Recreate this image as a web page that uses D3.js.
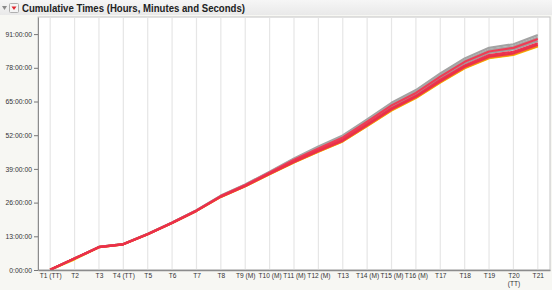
<!DOCTYPE html>
<html>
<head>
<meta charset="utf-8">
<script src="https://cdn.jsdelivr.net/npm/d3@7"></script>
<style>
  body { margin: 0; background: #f7f7f3; font-family: "Liberation Sans", Arial, sans-serif; }
  svg { display: block; }
</style>
</head>
<body>
<svg id="chart" width="552" height="290"></svg>
<script>
// stages
const stages = ["T1 (TT)", "T2", "T3", "T4 (TT)", "T5", "T6", "T7", "T8", "T9 (M)", "T10 (M)",
  "T11 (M)", "T12 (M)", "T13", "T14 (M)", "T15 (M)", "T16 (M)", "T17", "T18", "T19", "T20 (TT)", "T21"];

// cumulative hours per rider
const grayTop = [0.1, 4.5, 8.9, 10.0, 14.0, 18.3, 23.1, 28.7, 33.0, 37.9, 43.0, 47.6, 51.9, 58.1, 64.5, 69.4, 75.8, 81.6, 85.7, 87.1, 90.6];
const grayMid = [0.1, 4.4, 8.9, 10.0, 13.9, 18.3, 23.0, 28.6, 32.9, 37.7, 42.7, 47.2, 51.4, 57.6, 63.9, 68.8, 75.1, 80.8, 84.9, 86.3, 89.7];
const grayLow = [0.1, 4.4, 8.9, 10.0, 13.9, 18.2, 23.0, 28.5, 32.7, 37.4, 42.3, 46.6, 50.8, 56.8, 63.0, 67.9, 74.1, 79.7, 83.7, 85.1, 88.4];
const redA = [0.1, 4.4, 8.9, 10.0, 13.9, 18.2, 23.0, 28.5, 32.8, 37.6, 42.5, 46.9, 51.1, 57.2, 63.5, 68.3, 74.6, 80.3, 84.3, 85.7, 89.1];
const redB = [0.1, 4.4, 8.8, 9.9, 13.8, 18.2, 22.9, 28.4, 32.5, 37.2, 42.0, 46.2, 50.3, 56.3, 62.4, 67.2, 73.4, 78.9, 82.9, 84.2, 87.5];
const redC = [0.1, 4.4, 8.8, 9.9, 13.8, 18.1, 22.8, 28.3, 32.4, 37.1, 41.7, 45.9, 49.9, 55.9, 62.0, 66.8, 72.8, 78.4, 82.3, 83.6, 86.9];
const orangeLine = [0.1, 4.4, 8.8, 9.9, 13.8, 18.1, 22.8, 28.2, 32.3, 37.0, 41.6, 45.7, 49.7, 55.6, 61.7, 66.5, 72.5, 78.0, 81.9, 83.2, 86.4];
const leader = [0.1, 4.1, 8.8, 9.9, 13.8, 18.1, 22.8, 28.2, 32.3, 36.9, 41.5, 45.6, 49.6, 55.5, 61.5, 66.3, 72.3, 77.8, 81.7, 83.0, 86.2];

const yTicks = [0, 13, 26, 39, 52, 65, 78, 91];

// draw order: grey behind, yellow/orange, reds on top
const series = [
  { values: grayTop, color: "#a3a3a3" },
  { values: grayMid, color: "#a8a8a8" },
  { values: grayLow, color: "#a0a0a0" },
  { values: leader, color: "#f5c400" },
  { values: orangeLine, color: "#f3801e" },
  { values: redA, color: "#ee3d55" },
  { values: redB, color: "#ec3550" },
  { values: redC, color: "#ea3049" }
];

const svg = d3.select("#chart");
const plotL = 38, plotR = 550, plotT = 17, plotB = 270;
const tickFont = "Liberation Sans, Arial, sans-serif";

// title bar
const grad = svg.append("defs").append("linearGradient")
  .attr("id", "tb").attr("x1", 0).attr("x2", 0).attr("y1", 0).attr("y2", 1);
grad.append("stop").attr("offset", 0).attr("stop-color", "#f6f6f6");
grad.append("stop").attr("offset", 1).attr("stop-color", "#e9e9e9");
svg.append("rect").attr("x", 0).attr("y", 0).attr("width", 552).attr("height", 15).attr("fill", "url(#tb)");
svg.append("path").attr("d", "M2,6 L7,6 L4.5,10 Z").attr("fill", "#8a8a8a");
svg.append("rect").attr("x", 9.5).attr("y", 3.5).attr("width", 9).attr("height", 9).attr("rx", 1)
  .attr("fill", "#f4f4f4").attr("stroke", "#b0b0b0");
svg.append("path").attr("d", "M11.5,6.5 L16.5,6.5 L14,10 Z").attr("fill", "#e0252f");
svg.append("text").attr("x", 22).attr("y", 11.5)
  .style("font-size", "10.6px").style("font-weight", "bold").attr("fill", "#222")
  .attr("textLength", 223).attr("lengthAdjust", "spacingAndGlyphs")
  .text("Cumulative Times (Hours, Minutes and Seconds)");

const x = d3.scalePoint().domain(stages).range([plotL, plotR]).padding(0.5);
const y = d3.scaleLinear().domain([0, 97.6]).range([plotB, plotT]);

// plot background
svg.append("rect").attr("x", plotL).attr("y", plotT).attr("width", plotR - plotL).attr("height", plotB - plotT)
  .attr("fill", "#fff").attr("stroke", "#c4c4c4");

// vertical grid
svg.append("g").selectAll("line").data(stages).join("line")
  .attr("x1", d => x(d)).attr("x2", d => x(d)).attr("y1", plotT + 1).attr("y2", plotB)
  .attr("stroke", "#e6e6e6").attr("stroke-width", 1.2);

// lines
const line = d3.line().x((d, i) => x(stages[i])).y(d => y(d));
svg.append("g").selectAll("path").data(series).join("path")
  .attr("d", d => line(d.values))
  .attr("fill", "none").attr("stroke", d => d.color).attr("stroke-width", 2.2)
  .attr("stroke-linejoin", "round");

// y axis
const yAxis = svg.append("g").attr("transform", `translate(${plotL},0)`)
  .call(d3.axisLeft(y).tickValues(yTicks).tickSize(4).tickPadding(2).tickSizeOuter(0)
    .tickFormat(d => d + ":00:00"));
yAxis.select(".domain").attr("stroke", "#8c8c8c");
yAxis.selectAll(".tick line").attr("stroke", "#777");
yAxis.selectAll(".tick text").style("font-size", "6.8px").attr("fill", "#333")
  .style("font-family", tickFont);

// x axis
const xAxis = svg.append("g").attr("transform", `translate(0,${plotB})`)
  .call(d3.axisBottom(x).tickSize(0).tickPadding(3.5).tickSizeOuter(0));
xAxis.select(".domain").attr("stroke", "#8c8c8c").attr("stroke-width", 1.5);
xAxis.selectAll(".tick text").style("font-size", "6.6px").attr("fill", "#333")
  .style("font-family", tickFont)
  .each(function(d) {
    if (d === "T20 (TT)") {
      const t = d3.select(this).text(null);
      t.append("tspan").attr("x", 0).attr("dy", "0.71em").text("T20");
      t.append("tspan").attr("x", 0).attr("dy", "1.2em").text("(TT)");
    }
  });
</script>
</body>
</html>
